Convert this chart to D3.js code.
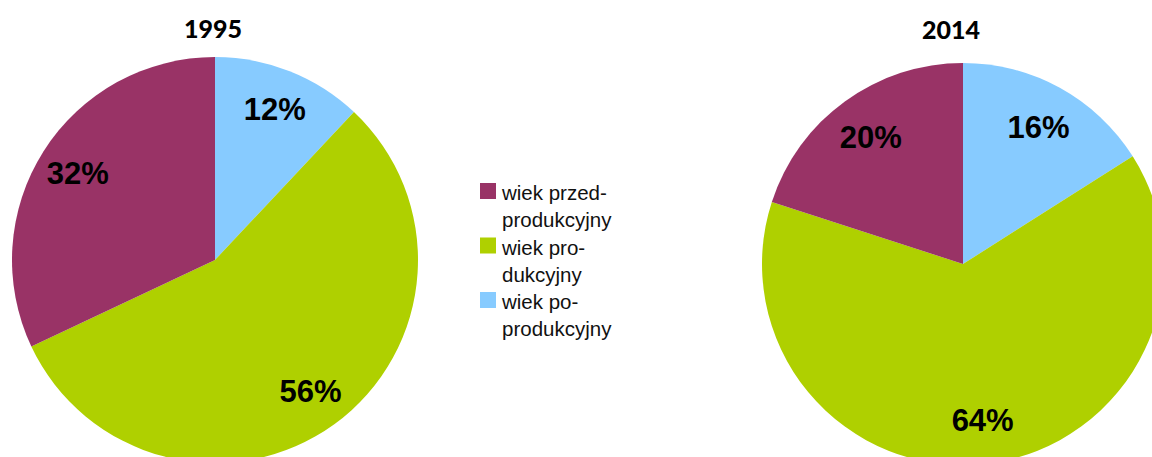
<!DOCTYPE html>
<html>
<head>
<meta charset="utf-8">
<script src="https://cdn.jsdelivr.net/npm/d3@7"></script>
<style>
  body { margin: 0; background: #fff; }
  svg { display: block; }
</style>
</head>
<body>
<div id="chart"></div>
<script>
// categories, clockwise from 12 o'clock
var categories = ["wiek po-produkcyjny", "wiek produkcyjny", "wiek przed-produkcyjny"];
var values1995 = [12, 56, 32];
var values2014 = [16, 64, 20];
var years = ["1995", "2014"];

// legend order (top to bottom) with wrapped lines
var legendOrder = [2, 1, 0];
var legendLines = [["wiek po-", "produkcyjny"], ["wiek pro-", "dukcyjny"], ["wiek przed-", "produkcyjny"]];

var width = 1152, height = 457;

var color = d3.scaleOrdinal()
    .domain(categories)
    .range(["#87cbff", "#afd000", "#993366"]);

var svg = d3.select("#chart").append("svg")
    .attr("width", width)
    .attr("height", height);

var pie = d3.pie().sort(null).value(function(d) { return d.value; });

var charts = [
  {year: years[0], values: values1995, cx: 215, cy: 260, r: 203, tx: 213, ty: 38, lr: 0.8},
  {year: years[1], values: values2014, cx: 963, cy: 264, r: 201, tx: 951, ty: 39, lr: 0.78}
];

charts.forEach(function(c) {
  var data = categories.map(function(k, i) { return {key: k, value: c.values[i]}; });
  var arcs = pie(data);
  var arc = d3.arc().innerRadius(0).outerRadius(c.r);
  var labelArc = d3.arc().innerRadius(c.r * c.lr).outerRadius(c.r * c.lr);

  var g = svg.append("g")
      .attr("transform", "translate(" + c.cx + "," + c.cy + ")");

  g.selectAll("path")
      .data(arcs)
      .enter().append("path")
      .attr("d", arc)
      .style("fill", function(d) { return color(d.data.key); });

  g.selectAll("text")
      .data(arcs)
      .enter().append("text")
      .attr("transform", function(d) {
        var p = labelArc.centroid(d);
        return "translate(" + p[0] + "," + (p[1] + 11) + ")";
      })
      .attr("text-anchor", "middle")
      .style("font-family", "'Liberation Sans', Arial, sans-serif")
      .style("font-weight", "bold")
      .style("font-size", "31px")
      .style("fill", "#000")
      .text(function(d) { return d.data.value + "%"; });

  svg.append("text")
      .attr("x", c.tx)
      .attr("y", c.ty)
      .attr("text-anchor", "middle")
      .style("font-family", "Lato, 'Open Sans', sans-serif")
      .style("font-weight", "900")
      .style("font-size", "25px")
      .text(c.year);
});

// legend
var legend = svg.append("g").attr("transform", "translate(480,183)");
var item = legend.selectAll(".item")
    .data(legendOrder)
    .enter().append("g")
    .attr("class", "item")
    .attr("transform", function(d, i) { return "translate(0," + (i * 54.5) + ")"; });

item.append("rect")
    .attr("width", 16)
    .attr("height", 16)
    .style("fill", function(d) { return color(categories[d]); });

item.each(function(d) {
  var t = d3.select(this).append("text")
      .style("font-family", "'Liberation Sans', Arial, sans-serif")
      .style("font-size", "20.5px")
      .style("fill", "#111");
  legendLines[d].forEach(function(line, j) {
    t.append("tspan")
      .attr("x", 22)
      .attr("y", 17 + j * 27)
      .text(line);
  });
});
</script>
</body>
</html>
